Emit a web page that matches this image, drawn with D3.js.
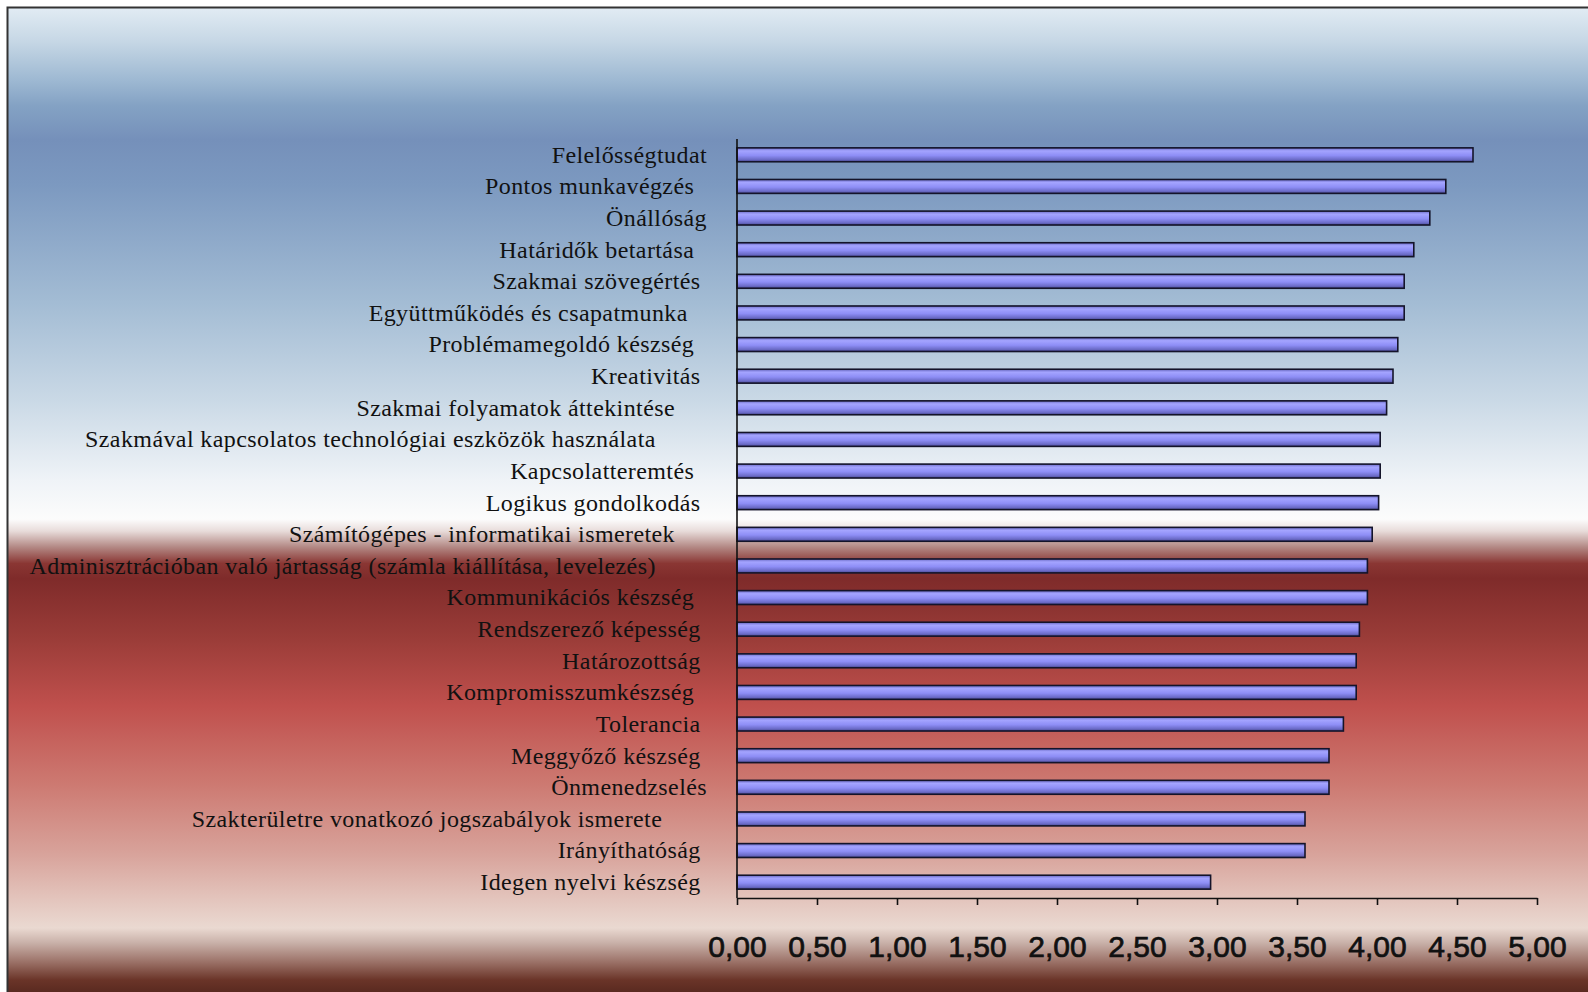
<!DOCTYPE html>
<html>
<head>
<meta charset="utf-8">
<script src="https://cdn.jsdelivr.net/npm/d3@7"></script>
<style>
  body { margin: 0; background: #fff; }
  svg { display: block; }
</style>
</head>
<body>
<div id="chart"></div>
<script>
// Skill names as they appear in the sheet (trailing spaces kept)
const skills = [
    "Felelősségtudat",
    "Pontos munkavégzés  ",
    "Önállóság",
    "Határidők betartása  ",
    "Szakmai szövegértés ",
    "Együttműködés és csapatmunka   ",
    "Problémamegoldó készség  ",
    "Kreativitás ",
    "Szakmai folyamatok áttekintése     ",
    "Szakmával kapcsolatos technológiai eszközök használata        ",
    "Kapcsolatteremtés  ",
    "Logikus gondolkodás ",
    "Számítógépes - informatikai ismeretek     ",
    "Adminisztrációban való jártasság (számla kiállítása, levelezés)        ",
    "Kommunikációs készség  ",
    "Rendszerező képesség ",
    "Határozottság ",
    "Kompromisszumkészség  ",
    "Tolerancia ",
    "Meggyőző készség ",
    "Önmenedzselés",
    "Szakterületre vonatkozó jogszabályok ismerete       ",
    "Irányíthatóság ",
    "Idegen nyelvi készség "
];

// Mean scores (1-5 scale)
const scores = [
    4.60, 4.43, 4.33, 4.23, 4.17, 4.17, 4.13, 4.10, 4.06, 4.02, 4.02, 4.01,
    3.97, 3.94, 3.94, 3.89, 3.87, 3.87, 3.79, 3.70, 3.70, 3.55, 3.55, 2.96
];

const xTicks = [0, 0.5, 1, 1.5, 2, 2.5, 3, 3.5, 4, 4.5, 5];

const width = 1588;
const height = 992;
const plot = { left: 737, right: 1537, top: 139, bottom: 898 };

const data = skills.map((s, i) => ({ name: s, value: scores[i] }));

const svg = d3.select("#chart")
    .append("svg")
    .attr("width", width)
    .attr("height", height);

const defs = svg.append("defs");

// page background: blue on top, red below, like the original slide
const bg = defs.append("linearGradient")
    .attr("id", "bg")
    .attr("x1", 0).attr("y1", 0).attr("x2", 0).attr("y2", 1);
[
    [0.000, "#e2ecf4"],
    [0.035, "#c6d7e5"],
    [0.075, "#9db8d2"],
    [0.100, "#84a2c4"],
    [0.135, "#7590ba"],
    [0.180, "#7c99c0"],
    [0.300, "#a3bcd4"],
    [0.400, "#cad9e6"],
    [0.480, "#eff3f7"],
    [0.520, "#fcfcfc"],
    [0.532, "#e8dcda"],
    [0.548, "#b48a86"],
    [0.565, "#8a3633"],
    [0.580, "#7f2b2a"],
    [0.640, "#9a3c38"],
    [0.710, "#c0504d"],
    [0.790, "#cd7a72"],
    [0.860, "#d8a39b"],
    [0.905, "#e3c4bc"],
    [0.935, "#ead9d1"],
    [0.950, "#c9b1a9"],
    [0.970, "#9a7066"],
    [0.988, "#6a3428"],
    [1.000, "#5a2a20"]
].forEach(([o, c]) => bg.append("stop").attr("offset", o).attr("stop-color", c));

// bar shading, a flat cylinder look
const barGrad = defs.append("linearGradient")
    .attr("id", "bar")
    .attr("x1", 0).attr("y1", 0).attr("x2", 0).attr("y2", 1);
[
    [0.00, "#6a6ac4"],
    [0.22, "#a4a4ff"],
    [0.55, "#8e8ef6"],
    [0.85, "#6a6ac6"],
    [1.00, "#45458a"]
].forEach(([o, c]) => barGrad.append("stop").attr("offset", o).attr("stop-color", c));

svg.append("rect")
    .attr("x", 7)
    .attr("y", 7)
    .attr("width", width - 7)
    .attr("height", height - 7)
    .attr("fill", "url(#bg)");

// frame, only left and top are visible in the original
svg.append("path")
    .attr("d", `M7.5,${height}V7.5H${width}`)
    .attr("fill", "none")
    .attr("stroke", "#333")
    .attr("stroke-width", 2);

const x = d3.scaleLinear()
    .domain([0, 5])
    .range([plot.left, plot.right]);

const y = d3.scaleBand()
    .domain(data.map(d => d.name))
    .range([plot.top, plot.bottom])
    .paddingInner(0.56)
    .paddingOuter(0.28);

// bars
svg.append("g")
    .selectAll("rect")
    .data(data)
    .join("rect")
    .attr("x", x(0))
    .attr("y", d => y(d.name))
    .attr("width", d => x(d.value) - x(0))
    .attr("height", y.bandwidth())
    .attr("fill", "url(#bar)")
    .attr("stroke", "#14142a")
    .attr("stroke-width", 1.6);

// category labels
svg.append("g")
    .selectAll("text")
    .data(data)
    .join("text")
    .attr("x", plot.left - 30)
    .attr("y", d => y(d.name) + y.bandwidth() / 2)
    .attr("dy", "0.33em")
    .attr("text-anchor", "end")
    .style("font-family", "'Liberation Serif', 'Times New Roman', serif")
    .style("font-size", "24px")
    .style("letter-spacing", "0.4px")
    .style("fill", "#111")
    .text(d => d.name.replace(/ /g, "\u00a0"));

// value axis
const xAxis = d3.axisBottom(x)
    .tickValues(xTicks)
    .tickSizeInner(7)
    .tickSizeOuter(0)
    .tickPadding(31)
    .tickFormat(d => d3.format(".2f")(d).replace(".", ","));

const gx = svg.append("g")
    .attr("transform", `translate(0,${plot.bottom})`)
    .call(xAxis);

gx.select(".domain").attr("stroke", "#111").attr("stroke-width", 1.6);
gx.selectAll(".tick line").attr("stroke", "#111").attr("stroke-width", 1.6);
gx.selectAll(".tick text")
    .style("font-family", "'Liberation Sans', Arial, sans-serif")
    .style("font-size", "30px")
    .style("fill", "#111")
    .style("stroke", "#111")
    .style("stroke-width", "0.7px");

// category axis line
svg.append("line")
    .attr("x1", x(0)).attr("x2", x(0))
    .attr("y1", plot.top).attr("y2", plot.bottom)
    .attr("stroke", "#111")
    .attr("stroke-width", 1.6);
</script>
</body>
</html>
